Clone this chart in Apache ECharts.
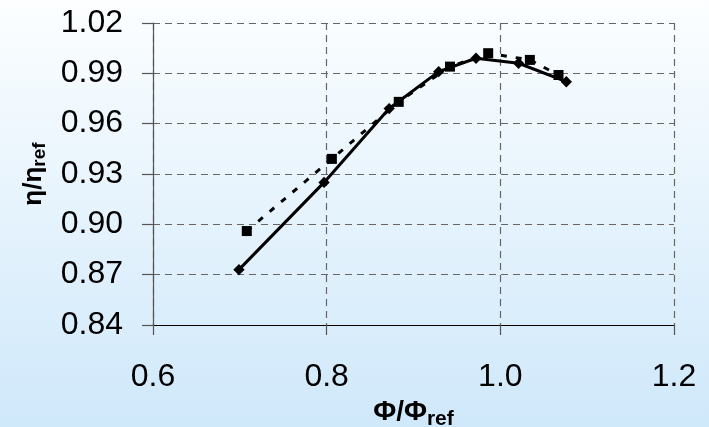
<!DOCTYPE html>
<html>
<head>
<meta charset="utf-8">
<script src="https://cdn.jsdelivr.net/npm/echarts@6/dist/echarts.min.js"></script>
<style>
html,body{margin:0;padding:0;}
#c{width:709px;height:427px;}
</style>
</head>
<body>
<div id="c"></div>
<script>
const xTicks = [0.6, 0.8, 1.0, 1.2];
const yTicks = [0.84, 0.87, 0.90, 0.93, 0.96, 0.99, 1.02];
const solidX = [0.699, 0.797, 0.872, 0.929, 0.972, 1.021, 1.076];
const solidY = [0.873, 0.925, 0.969, 0.991, 0.999, 0.996, 0.985];
const dashX = [0.708, 0.806, 0.883, 0.942, 0.986, 1.034, 1.067];
const dashY = [0.896, 0.939, 0.973, 0.994, 1.002, 0.998, 0.989];

const chart = echarts.init(document.getElementById('c'), null, {renderer: 'canvas'});
const font = "'Liberation Sans'";
const gridStyle = {show: true, lineStyle: {color: '#666', type: [7, 5], width: 1.2}};
chart.setOption({
  animation: false,
  backgroundColor: {
    type: 'linear', x: 0, y: 0, x2: 0, y2: 1,
    colorStops: [{offset: 0, color: '#fcfeff'}, {offset: 1, color: '#cfe8fa'}]
  },
  grid: {left: 153, right: 35, top: 23, bottom: 102, containLabel: false, outerBoundsMode: 'none'},
  xAxis: {
    type: 'value', min: xTicks[0], max: xTicks[xTicks.length - 1], interval: 0.2,
    axisLine: {lineStyle: {color: '#000', width: 1.2}},
    axisTick: {show: true, length: 10, lineStyle: {color: '#555', width: 1.2}},
    axisLabel: {fontFamily: font, fontSize: 32, color: '#000', margin: 36, formatter: v => v.toFixed(1)},
    splitLine: gridStyle,
    name: '{b|Φ/Φ}{s|ref}', nameLocation: 'middle', nameGap: 68,
    nameTextStyle: {
      fontFamily: font, fontSize: 28, fontWeight: 'bold', color: '#000',
      rich: {
        b: {fontFamily: font, fontSize: 28, fontWeight: 'bold', color: '#000'},
        s: {fontFamily: font, fontSize: 21, fontWeight: 'bold', color: '#000', padding: [14, 0, 0, 0]}
      }
    }
  },
  yAxis: {
    type: 'value', min: yTicks[0], max: yTicks[yTicks.length - 1], interval: 0.03,
    axisLine: {show: true, lineStyle: {color: '#555', width: 1.2}},
    axisTick: {show: true, length: 11, lineStyle: {color: '#555', width: 1.2}},
    axisLabel: {fontFamily: font, fontSize: 32, color: '#000', margin: 30, formatter: v => v.toFixed(2)},
    splitLine: gridStyle,
    name: '{b|η/η}{s|ref}', nameLocation: 'middle', nameGap: 104, nameRotate: 90,
    nameTextStyle: {
      fontFamily: font, fontSize: 26, fontWeight: 'bold', color: '#000',
      rich: {
        b: {fontFamily: font, fontSize: 26, fontWeight: 'bold', color: '#000'},
        s: {fontFamily: font, fontSize: 19, fontWeight: 'bold', color: '#000', padding: [12, 0, 0, 0]}
      }
    }
  },
  series: [
    {
      type: 'line', data: dashX.map((x, i) => [x, dashY[i]]),
      symbol: 'rect', symbolSize: 10,
      itemStyle: {color: '#000'},
      lineStyle: {color: '#000', width: 3, type: [6, 9]},
      z: 3
    },
    {
      type: 'line', data: solidX.map((x, i) => [x, solidY[i]]),
      symbol: 'rect', symbolSize: 8, symbolRotate: 45,
      itemStyle: {color: '#000'},
      lineStyle: {color: '#000', width: 3},
      z: 4
    }
  ]
});
</script>
</body>
</html>
